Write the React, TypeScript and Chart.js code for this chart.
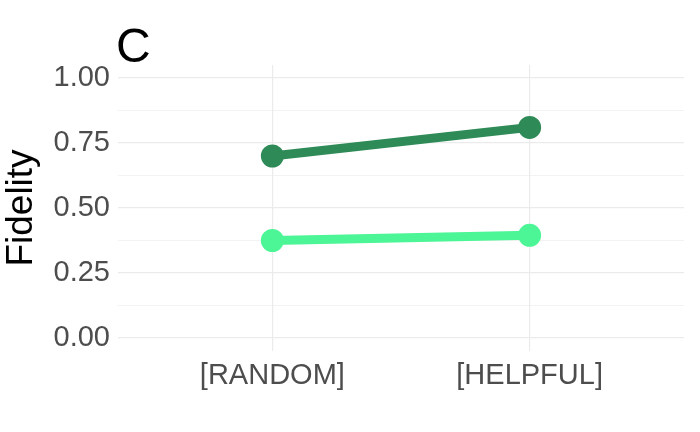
import { useEffect, useRef } from 'react';
import { Chart, registerables } from 'chart.js';

Chart.register(...registerables);

const categories = ['[RANDOM]', '[HELPFUL]'];
const categoryPos = [1, 2];
const darkSeries = [0.70, 0.81];
const lightSeries = [0.375, 0.395];
const yTicks = [0, 0.125, 0.25, 0.375, 0.5, 0.625, 0.75, 0.875, 1];
const xGrid = [1, 2];

const panelTitle = {
  id: 'panelTitle',
  afterDraw(chart: Chart) {
    const ctx = chart.ctx;
    ctx.save();
    ctx.fillStyle = '#000';
    ctx.font = '48px Arial, "Liberation Sans", sans-serif';
    ctx.textBaseline = 'alphabetic';
    ctx.textAlign = 'left';
    ctx.fillText('C', 116, 62);
    ctx.restore();
  },
};

export default function App() {
  const canvasRef = useRef<HTMLCanvasElement | null>(null);

  useEffect(() => {
    document.body.style.margin = '0';
    const canvas = canvasRef.current;
    if (!canvas) return;
    const mk = (vals: number[], color: string) => ({
      data: vals.map((v, i) => ({ x: categoryPos[i], y: v })),
      borderColor: color,
      backgroundColor: color,
      borderWidth: 9,
      pointRadius: 7,
      pointHoverRadius: 7,
    });
    const font = { size: 29, family: 'Arial, "Liberation Sans", sans-serif' };
    const chart = new Chart(canvas, {
      type: 'line',
      data: { datasets: [mk(darkSeries, '#2e8b57'), mk(lightSeries, '#4cf595')] },
      plugins: [panelTitle],
      options: {
        animation: false,
        responsive: false,
        layout: { padding: { top: 65, right: 10, bottom: 0, left: 0 } },
        plugins: { legend: { display: false }, tooltip: { enabled: false } },
        scales: {
          x: {
            type: 'linear',
            min: 0.4,
            max: 2.6,
            afterBuildTicks: (s: any) => { s.ticks = xGrid.map((v) => ({ value: v })); },
            afterFit: (s: any) => { s.height = 81; },
            border: { display: false },
            grid: { drawTicks: false, color: '#ebebeb', lineWidth: 1.2 },
            ticks: {
              padding: 8,
              color: '#4d4d4d',
              font,
              autoSkip: false,
              maxRotation: 0,
              callback: (v: any) => {
                const i = categoryPos.indexOf(Number(v));
                return i >= 0 ? categories[i] : '';
              },
            },
          },
          y: {
            min: -0.05,
            max: 1.05,
            afterBuildTicks: (s: any) => { s.ticks = yTicks.map((v) => ({ value: v })); },
            afterFit: (s: any) => { s.width = 118; },
            border: { display: false },
            grid: {
              drawTicks: false,
              color: '#ebebeb',
              lineWidth: (c: any) => ((c.tick?.value * 4) % 1 === 0 ? 1.2 : 0.6),
            },
            title: {
              display: true,
              text: 'Fidelity',
              color: '#000',
              font: { size: 37, family: 'Arial, "Liberation Sans", sans-serif' },
              padding: 0,
            },
            ticks: {
              padding: 8,
              color: '#4d4d4d',
              font,
              autoSkip: false,
              callback: (v: any) => ((Number(v) * 4) % 1 === 0 ? Number(v).toFixed(2) : ''),
            },
          },
        },
      },
    });
    return () => chart.destroy();
  }, []);

  return <canvas ref={canvasRef} width={700} height={432} style={{ display: 'block' }} />;
}
